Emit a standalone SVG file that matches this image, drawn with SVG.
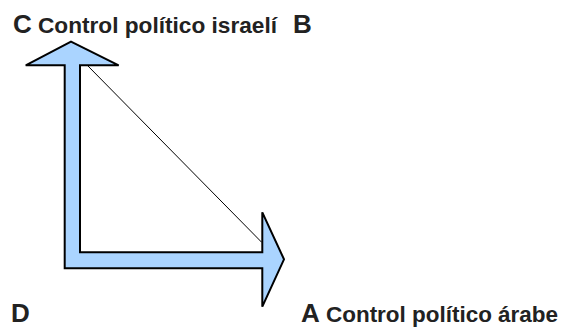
<svg xmlns="http://www.w3.org/2000/svg" width="568" height="332" viewBox="0 0 568 332">
<style>
.lbl{font-family:"Liberation Sans",Arial,sans-serif;font-weight:bold;fill:#222}
.big{font-size:26px}
.txt{font-size:22px}
.arrow{fill:#aad4ff;stroke:#000;stroke-width:2;stroke-linejoin:miter}
</style>
<rect width="568" height="332" fill="#fff"/>
<g id="arrow">
<path class="arrow" d="M71,41.7 L118.7,65.3 L80,65.3 L80,252.3 L262.3,252.3 L262.3,212.3 L284,259.3 L262.3,306.7 L262.3,268.3 L64.7,268.3 L64.7,65.3 L25.7,65.3 Z"/>
</g>
<g id="connectors">
<line x1="87.3" y1="65.3" x2="261.7" y2="242.3" stroke="#000" stroke-width="1"/>
</g>
<g id="node-C">
<text class="lbl big" x="13" y="33">C</text>
<text class="lbl txt" x="38" y="33" textLength="239" lengthAdjust="spacingAndGlyphs">Control político israelí</text>
</g>
<g id="node-B">
<text class="lbl big" x="293" y="33">B</text>
</g>
<g id="node-D">
<text class="lbl big" x="11" y="322">D</text>
</g>
<g id="node-A">
<text class="lbl big" x="301" y="322">A</text>
<text class="lbl txt" x="326" y="322" textLength="232" lengthAdjust="spacingAndGlyphs">Control político árabe</text>
</g>
</svg>
